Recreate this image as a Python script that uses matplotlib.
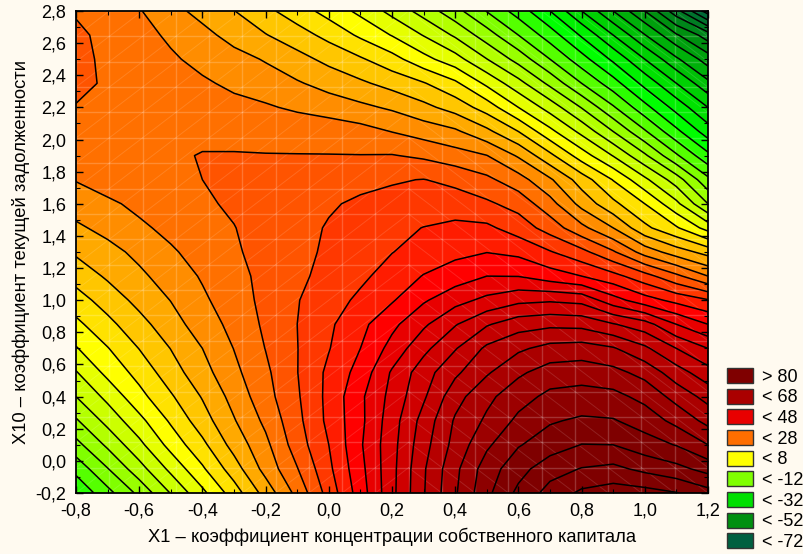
import matplotlib
matplotlib.use('Agg')
import matplotlib.pyplot as plt
from matplotlib.patches import Patch
import numpy as np

plt.rcParams['font.family'] = ['Liberation Sans', 'DejaVu Sans']

BG = '#FFFAF0'

x_values = [-0.8, -0.7, -0.6, -0.5, -0.4, -0.3, -0.2, -0.1, 0.0, 0.1, 0.2,
            0.3, 0.4, 0.5, 0.6, 0.7, 0.8, 0.9, 1.0, 1.1, 1.2]
y_values = [-0.2, -0.05, 0.1, 0.25, 0.4, 0.55, 0.7, 0.85, 1.0, 1.15, 1.3,
            1.45, 1.6, 1.75, 1.9, 2.05, 2.2, 2.35, 2.5, 2.65, 2.8]

# values, bottom row first
z_values = [
    [-23.5, -17.3, -11, -3.8, 3, 10, 17.6, 25.2, 33.6, 42, 50.9, 59.7, 67.5, 75, 81, 85.5, 88.8, 90, 89.5, 88.2, 85.5],
    [-18.7, -12.2, -5.6, 1, 7.4, 14.1, 21.4, 27.8, 35.1, 42.8, 50.8, 59.5, 67, 74, 78.5, 82.4, 84.2, 85, 83, 81.2, 78.6],
    [-13.3, -7.2, -1.1, 5.4, 11, 17.5, 23, 30, 36, 43.5, 50.6, 58.5, 65.4, 71.3, 75.7, 78, 80.1, 80, 77.7, 75.8, 72],
    [-8.5, -2.7, 2.8, 8.6, 14.2, 19.7, 24.9, 30.9, 37, 43, 50.2, 57.5, 64.5, 68.7, 72.9, 75.6, 76.6, 76.3, 74.3, 70.8, 66.8],
    [-4, 1.1, 6.7, 11.5, 16.3, 21.4, 26.5, 31.5, 37.1, 43.2, 49.3, 55.4, 62.5, 67, 70.4, 73, 73.6, 73.2, 70.8, 66.6, 62.6],
    [-0.3, 5.1, 9.4, 14.2, 18.5, 23, 27.2, 31.9, 36.9, 41.5, 48.5, 54.2, 59.2, 63.5, 67.3, 69.8, 70.2, 69.2, 66.7, 61.8, 57.6],
    [3.7, 7.8, 12.1, 16.1, 20, 24.1, 28.1, 31.9, 35.8, 40, 45.4, 50.9, 55.7, 60.8, 63.3, 65.3, 65.8, 64.4, 60.8, 56, 52],
    [7, 10.9, 14.6, 18.4, 21.9, 25.2, 28.7, 32, 35.3, 38.9, 43, 47.3, 51.7, 55.6, 58.3, 59.1, 58.8, 56.3, 53.7, 48, 44],
    [10.3, 13.7, 17.2, 20.1, 23.3, 26.2, 29, 31.8, 34.3, 36.8, 39.6, 43.5, 46.6, 49, 51, 51.5, 50.8, 45.6, 41.7, 38.8, 36.3],
    [13.5, 16.6, 19.2, 21.8, 24.4, 26.3, 29.5, 31.2, 33.2, 35.2, 37.6, 40.2, 42, 44, 43.9, 41.9, 40, 37.3, 33.5, 28.9, 24],
    [16.6, 18.7, 21, 23.5, 25.5, 27.4, 29.6, 31.3, 32.4, 34, 35.9, 37.5, 39, 39.9, 39, 36.3, 33.2, 28.5, 22.3, 18, 14.5],
    [19.3, 21.2, 23.3, 25, 26.6, 27.9, 29.4, 30.8, 32.3, 33.5, 34.9, 36.1, 37, 36.8, 34.2, 30.3, 25.1, 20, 13, 8.5, 2.4],
    [21.8, 23.3, 24.9, 26.1, 27.5, 28.5, 29.6, 30.5, 31.6, 32.6, 33, 33.8, 33.9, 32.7, 30.5, 25.5, 18.7, 13, 8, 1, -8],
    [24.2, 25.8, 26.8, 27.5, 28, 29, 29.5, 30, 30.3, 31, 31.7, 32.1, 31, 28.9, 25.7, 20.6, 14.1, 7.8, 0.9, -6, -15],
    [25.5, 26, 26.6, 27.4, 28.2, 28.2, 28.1, 28.1, 28.1, 28.1, 28.2, 27.3, 25.7, 24.1, 19.5, 13, 6, -0.2, -7.3, -15.4, -23],
    [26.5, 26.7, 26.8, 27, 27, 27, 27.1, 26.8, 26.5, 25.5, 23.9, 22.3, 20.7, 17, 12, 5.1, -1.1, -8, -15.5, -23, -30],
    [27.6, 27, 26.6, 26, 25.6, 25, 24.5, 23.3, 22.1, 20.9, 19.4, 17.1, 14.4, 10.2, 4, -1.7, -8.2, -15.5, -22.7, -29.5, -36],
    [30, 27, 26.5, 25.5, 24.5, 23.3, 21.8, 20.4, 18.6, 16.7, 14.6, 12.3, 8.8, 3.1, -2.6, -9, -16, -22.3, -29.3, -36, -43],
    [30, 26.6, 26, 24.5, 23, 21.3, 19.7, 17.4, 14.9, 12.5, 9.5, 5.3, 1.6, -3.9, -9.5, -16, -22.4, -28.8, -36, -43.3, -50],
    [29, 26.7, 25.2, 23.4, 21.1, 18.7, 16.2, 13.7, 10.8, 7.3, 3.8, -0.2, -4.6, -10.1, -16, -22, -28.5, -36, -43.8, -51.5, -58],
    [27.5, 26, 24.3, 21.2, 18.8, 16.1, 13, 9.9, 6.5, 3, -1.2, -5.6, -10.6, -16.2, -21.8, -28, -36, -44, -52, -62.5, -74],
]

levels = list(range(-72, 92, 4))

legend_labels = ['> 80', '< 68', '< 48', '< 28', '< 8', '< -12', '< -32', '< -52', '< -72']
legend_colors = ['#7F0000', '#AA0000', '#E80000', '#FF6E00', '#FFFF00',
                 '#80FF00', '#00E000', '#009010', '#006040']

xticks = [-0.8, -0.6, -0.4, -0.2, 0.0, 0.2, 0.4, 0.6, 0.8, 1.0, 1.2]
yticks = [-0.2, 0.0, 0.2, 0.4, 0.6, 0.8, 1.0, 1.2, 1.4, 1.6, 1.8, 2.0, 2.2, 2.4, 2.6, 2.8]

# цвет полосы задаём по её верхней границе
anchor_levels = [-72, -52, -32, -24, -12, 8, 28, 44, 48, 68, 80]
anchor_colors = ['#006040', '#009010', '#00E000', '#00FF00', '#80FF00', '#FFFF00',
                 '#FF7000', '#FF0000', '#E80000', '#AA0000', '#7F0000']
anchor_rgb = np.array([matplotlib.colors.to_rgb(c) for c in anchor_colors])


def band_color(top):
    return tuple(np.interp(top, anchor_levels, anchor_rgb[:, i]) for i in range(3))


band_colors = [band_color(lv) for lv in levels] + [band_color(80)]

fig = plt.figure(figsize=(8.04, 5.54), dpi=100, facecolor=BG)
ax = fig.add_axes([76 / 804, 1 - 493 / 554, 632 / 804, 482 / 554])

cf = ax.contourf(x_values, y_values, z_values, levels=levels, colors=band_colors,
                 extend='both', antialiased=False)
ax.contour(x_values, y_values, z_values, levels=levels, colors='black',
           linewidths=1.1, linestyles='solid')

# светлая сетка поверхности
mesh_x = np.linspace(-0.8, 1.2, 20)
mesh_y = np.linspace(-0.2, 2.8, 20)
for v in mesh_x:
    ax.axvline(v, color='white', alpha=0.2, lw=1.0, zorder=1.5)
for v in mesh_y:
    ax.axhline(v, color='white', alpha=0.2, lw=1.0, zorder=1.5)
for i in range(19):
    for j in range(19):
        if i < 10:
            ax.plot(mesh_x[i:i + 2], mesh_y[j:j + 2], color='white', alpha=0.13, lw=0.7, zorder=1.5)
        else:
            ax.plot(mesh_x[i:i + 2], mesh_y[j:j + 2][::-1], color='white', alpha=0.13, lw=0.7, zorder=1.5)

ax.set_xlim(-0.8, 1.2)
ax.set_ylim(-0.2, 2.8)
ax.set_xticks(xticks)
ax.set_yticks(yticks)
ax.set_xticklabels([f'{t:.1f}'.replace('.', ',') for t in xticks], fontsize=13)
ax.set_yticklabels([f'{t:.1f}'.replace('.', ',') for t in yticks], fontsize=13)
ax.set_xticks(np.arange(-0.7, 1.2, 0.2), minor=True)
ax.set_yticks(np.arange(-0.1, 2.8, 0.2), minor=True)
ax.tick_params(which='major', direction='in', length=5, width=1.0, top=True, right=True, pad=7)
ax.tick_params(which='minor', direction='in', length=3, width=0.8, top=True, right=True)
for s in ax.spines.values():
    s.set_linewidth(1.3)

ax.set_xlabel('X1 – коэффициент концентрации собственного капитала', fontsize=13.2, labelpad=6)
ax.set_ylabel('X10 – коэффициент текущей задолженности', fontsize=13.2, labelpad=4)

handles = [Patch(facecolor=c, edgecolor='#333333', linewidth=1.0) for c in legend_colors]
fig.legend(handles, legend_labels, loc='lower left', bbox_to_anchor=(727 / 804, 3 / 554),
           frameon=False, fontsize=13, handlelength=1.44, handleheight=0.89,
           labelspacing=0.165, handletextpad=0.5, borderpad=0.0, borderaxespad=0.0)

fig.savefig('out.png', dpi=100, facecolor=BG)
